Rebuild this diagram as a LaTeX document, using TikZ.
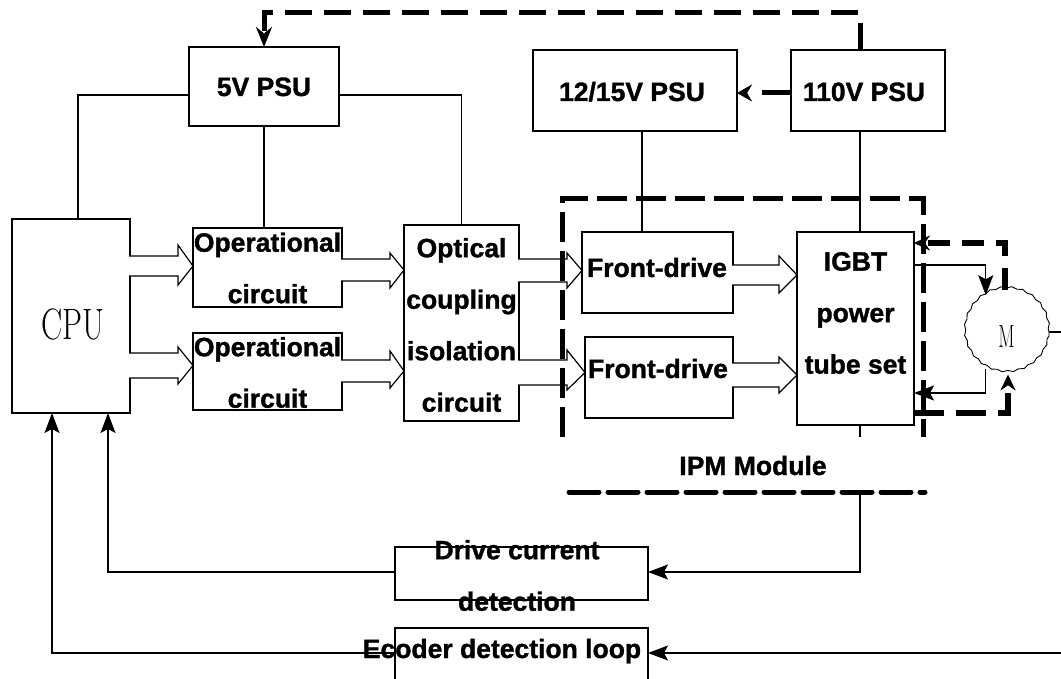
\documentclass[tikz,border=0pt]{standalone}
\usepackage{fontspec}
\usepackage{graphicx}
\newfontfamily\lib{Liberation Sans Bold}[FakeBold=1.3]
\usetikzlibrary{arrows.meta,calc,decorations.pathmorphing}
\newcommand\hollowarr[7]{\filldraw[fill=white,line width=1.2pt,line join=miter] (#1,#4) -- (#2,#4) -- (#2,#6) -- (#3,{(#4+#5)/2}) -- (#2,#7) -- (#2,#5) -- (#1,#5);}
\begin{document}
\begin{tikzpicture}[x=1pt,y=-1pt,
  blk/.style={draw,line width=1.3pt,inner sep=0pt,outer sep=0pt,rectangle},
  lbl/.style={font=\lib\fontsize{26.5}{51.5}\selectfont,inner sep=0pt,align=center},
  thin/.style={line width=1.2pt},
  tip/.style={-{Stealth[length=20pt,width=15pt,inset=4pt]}},
  thickdash/.style={line width=5pt,dash pattern=on 27pt off 12pt},
  ipm/.style={line width=5pt,dash pattern=on 30pt off 9pt}]
\useasboundingbox (0,0) rectangle (1061,679);
\fill[white] (0,0) rectangle (1061,679);
\clip (0,0) rectangle (1061,679);

% boxes
\node[blk,minimum width=118pt,minimum height=194pt] (cpu) at (71,316) {};
\node[blk,minimum width=150pt,minimum height=79pt] (p5v) at (264,86.5) {};
\node[blk,minimum width=204pt,minimum height=81pt] (p1215) at (635,90.5) {};
\node[blk,minimum width=154pt,minimum height=81pt] (p110) at (868,90.5) {};
\node[blk,minimum width=149pt,minimum height=79pt] (op1) at (267.5,267.5) {};
\node[blk,minimum width=149pt,minimum height=77pt] (op2) at (267.5,371.5) {};
\node[blk,minimum width=115pt,minimum height=196pt] (opt) at (461.5,323) {};
\node[blk,minimum width=151pt,minimum height=81pt] (fd1) at (657.5,272.5) {};
\node[blk,minimum width=148pt,minimum height=81pt] (fd2) at (659,377.5) {};
\node[blk,minimum width=117pt,minimum height=193pt] (igbt) at (855.5,328.5) {};
\node[blk,minimum width=253pt,minimum height=53pt] (drv) at (521.5,573.5) {};
\node[blk,minimum width=253pt,minimum height=72pt] (enc) at (521.5,664) {};
\node[circle,draw,line width=0.9pt,minimum size=84pt,inner sep=0pt,decorate,decoration={snake,segment length=11pt,amplitude=0.8pt}] (mot) at (1007,332) {};

% texts
\node[inner sep=0pt,anchor=base] (cput) at (73,340) {\fontsize{44}{44}\selectfont\scalebox{0.72}[1]{CPU}};
\node[inner sep=0pt,anchor=base] (mt) at (1006.5,348) {\fontsize{32}{32}\selectfont\scalebox{0.6}[1]{M}};
\node[lbl,anchor=base] (t5v) at (264,96) {5V PSU};
\node[lbl,anchor=base] (t1215) at (632,101) {12/15V PSU};
\node[lbl,anchor=base] (t110) at (864,101) {110V PSU};
\node[lbl] (top1) at (267.5,268) {Operational\\circuit};
\node[lbl] (top2) at (267.5,372.5) {Operational\\circuit};
\node[lbl] (topt) at (461.5,325) {Optical\\coupling\\isolation\\circuit};
\node[lbl,anchor=base] (tfd1) at (657,277) {Front-drive};
\node[lbl,anchor=base] (tfd2) at (658,378) {Front-drive};
\node[lbl] (tigbt) at (855.5,313) {IGBT\\power\\tube set};
\node[lbl,anchor=base] (tipm) at (753,475) {IPM Module};
\node[lbl] (tdrv) at (517,575.5) {Drive current\\detection};

% hollow arrows
\hollowarr{129}{178}{193}{256}{276}{245}{285}
\hollowarr{129}{178}{193}{353}{378}{347}{384}
\hollowarr{341}{390}{404}{259}{281}{253}{288}
\hollowarr{341}{390}{404}{360}{382}{351}{388}
\hollowarr{518}{567}{582}{259}{282}{253}{288}
\hollowarr{518}{567}{585}{360}{385}{350}{390}
\hollowarr{732}{779}{797}{265}{285}{256}{293}
\hollowarr{732}{779}{797}{363}{387}{357}{393}

% thin connectors
\draw[thin] ([yshift=-8.5pt]p5v.west) -| ([xshift=7pt]cpu.north);
\draw[thin] ([yshift=-8.5pt]p5v.east) -| (opt.north);
\draw[thin] (p5v.south) -- (p5v.south |- op1.north);
\draw[thin] ([xshift=7pt]p1215.south) -- ([xshift=7pt]p1215.south |- fd1.north);
\draw[thin] ([xshift=-8pt]p110.south) -- ([xshift=-8pt]p110.south |- igbt.north);
\draw[thin,tip] ([yshift=63.5pt]igbt.east) -| (mot.120);
\draw[thin,tip] (mot.240) |- ([yshift=-64.5pt]igbt.east);
\coordinate (stub) at ($(igbt.south)+(4.5,12)$);
\draw[thin] ([xshift=4.5pt]igbt.south) -- (stub);
\coordinate (ipmb) at (860,492);
\draw[thin,tip] (ipmb) |- ([yshift=1.5pt]drv.east);
\draw[thin,tip] ([yshift=1.5pt]drv.west) -| ([xshift=37pt]cpu.south);
\coordinate (offr) at (1080,332);
\draw[thin,tip] (mot.east) -- (offr) |- ([yshift=11pt]enc.east);
\draw[thin,tip] ([yshift=11pt]enc.west) -| ([xshift=-19pt]cpu.south);
\node[lbl,anchor=base] (tenc) at (502,658) {Ecoder detection loop};

% thick dashed
\draw[thickdash,-{Stealth[length=20pt,width=16pt]}] ([xshift=-8pt]p110.north) -- ++(0,-37) -| (p5v.north);
\draw[line width=5pt,dash pattern=on 29pt off 30pt,-{Stealth[length=15pt,width=17pt]}] ([yshift=-2.5pt]p110.west) -- ([yshift=-2.5pt]p1215.east);
\draw[ipm] (562,437) -- (562,199) -- (923,199) -- (923,437);
\draw[ipm,line cap=round] (569,492) -- (925,492);
\draw[line width=5.5pt,dash pattern=on 22pt off 12pt,-{Stealth[length=16pt,width=15pt]}] ([xshift=-2pt]mot.north) |- ([yshift=85.5pt]igbt.east);
\draw[line width=5.5pt,dash pattern=on 30pt off 12pt,-{Stealth[length=16pt,width=15pt]}] ([yshift=-84.5pt]igbt.east) -| ([xshift=1pt]mot.south);
\end{tikzpicture}
\end{document}
